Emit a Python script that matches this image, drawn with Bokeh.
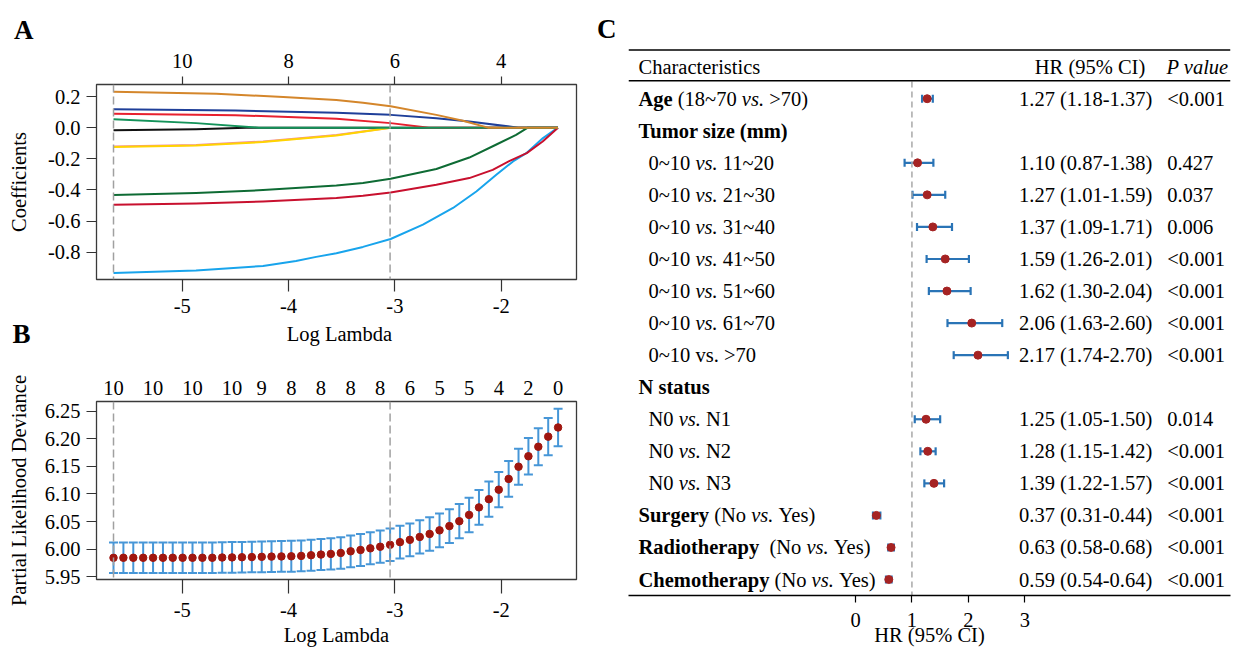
import math
from bokeh.plotting import figure
from bokeh.models import (Range1d, LinearAxis, FixedTicker, Span,
                          ColumnDataSource, Whisker, TeeHead)
from bokeh.layouts import row, column
from bokeh.embed import file_html
from bokeh.resources import INLINE
from bokeh.core.properties import value

FONT = "Liberation Serif"
FPX = 20.5
FS = "%gpx" % FPX

# ======================= DATA =======================
# ---- Panel A: LASSO coefficient paths (log lambda, coefficient)
lambda_min_log = -5.646
lambda_1se_log = -3.045
x_ticks = [-5, -4, -3, -2]
a_top_labels = ["10", "8", "6", "4"]
a_y_ticks = [-0.8, -0.6, -0.4, -0.2, 0.0, 0.2]

path_black_x = [-5.646, -4.87, -4.40, -1.466]
path_black_y = [-0.016, -0.010, 0.0, 0.0]
path_pink_x = [-5.646, -4.87, -4.24, -3.55, -3.04]
path_pink_y = [-0.121, -0.111, -0.089, -0.047, 0.0]
path_yellow_x = [-5.646, -4.87, -4.24, -3.55, -3.04]
path_yellow_y = [-0.125, -0.115, -0.093, -0.051, 0.0]
path_red_x = [-5.646, -4.50, -3.55, -3.04, -2.68, -1.466]
path_red_y = [0.090, 0.080, 0.057, 0.029, 0.0, 0.0]
path_blue_x = [-5.646, -4.50, -3.55, -3.04, -2.61, -2.30, -1.84, -1.466]
path_blue_y = [0.118, 0.110, 0.095, 0.082, 0.061, 0.039, 0.0, 0.0]
path_lightblue_x = [-5.646, -4.87, -4.24, -3.93, -3.74, -3.55, -3.30, -3.04,
                    -2.736, -2.453, -2.234, -2.046, -1.889, -1.764, -1.607, -1.466]
path_lightblue_y = [-0.933, -0.918, -0.888, -0.856, -0.830, -0.807, -0.766, -0.715,
                    -0.623, -0.516, -0.410, -0.303, -0.217, -0.164, -0.067, 0.0]
path_darkred_x = [-5.646, -4.87, -4.24, -3.55, -3.30, -3.04, -2.61, -2.30, -2.08,
                  -1.92, -1.76, -1.61, -1.466]
path_darkred_y = [-0.495, -0.488, -0.474, -0.452, -0.437, -0.416, -0.367, -0.324,
                  -0.271, -0.213, -0.164, -0.089, 0.0]
path_darkgreen_x = [-5.646, -4.87, -4.24, -3.55, -3.30, -3.04, -2.61, -2.30, -2.05,
                    -1.86, -1.75, -1.466]
path_darkgreen_y = [-0.433, -0.420, -0.401, -0.371, -0.356, -0.328, -0.266, -0.192,
                    -0.110, -0.046, 0.0, 0.0]
path_green_x = [-5.646, -4.87, -4.28, -1.466]
path_green_y = [0.054, 0.029, 0.0, 0.0]
path_orange_x = [-5.646, -4.68, -4.05, -3.55, -3.30, -3.04, -2.61, -2.36, -2.124,
                 -1.466]
path_orange_y = [0.231, 0.217, 0.197, 0.177, 0.160, 0.138, 0.082, 0.044, 0.0, 0.0]

# ---- Panel B: cross-validation curve
cv_loglambda = [-5.646, -5.553, -5.460, -5.367, -5.274, -5.181, -5.089, -4.996,
                -4.903, -4.810, -4.717, -4.624, -4.531, -4.438, -4.345, -4.252,
                -4.160, -4.067, -3.974, -3.881, -3.788, -3.695, -3.602, -3.509,
                -3.416, -3.323, -3.231, -3.138, -3.045, -2.952, -2.859, -2.766,
                -2.673, -2.580, -2.487, -2.394, -2.302, -2.209, -2.116, -2.023,
                -1.930, -1.837, -1.744, -1.651, -1.558, -1.465]
cv_mean = [5.9845, 5.9845, 5.9845, 5.9845, 5.9845, 5.9845, 5.9845, 5.9845,
           5.9845, 5.9845, 5.9845, 5.9850, 5.9852, 5.9855, 5.9858, 5.9862,
           5.9866, 5.9869, 5.9872, 5.9879, 5.9891, 5.9903, 5.9915, 5.9932,
           5.9962, 5.9986, 6.0016, 6.0045, 6.0080, 6.0128, 6.0169, 6.0222,
           6.0276, 6.0341, 6.0418, 6.0507, 6.0621, 6.0757, 6.0905, 6.1077,
           6.1272, 6.1493, 6.1682, 6.1854, 6.2037, 6.2203]
cv_se = [0.0277, 0.0277, 0.0277, 0.0277, 0.0277, 0.0277, 0.0277, 0.0277,
         0.0277, 0.0277, 0.0277, 0.0277, 0.0277, 0.0277, 0.0277, 0.0278,
         0.0278, 0.0278, 0.0279, 0.0279, 0.0280, 0.0281, 0.0283, 0.0285,
         0.0287, 0.0289, 0.0290, 0.0292, 0.0293, 0.0295, 0.0297, 0.0300,
         0.0302, 0.0305, 0.0307, 0.0310, 0.0312, 0.0315, 0.0318, 0.0320,
         0.0323, 0.0326, 0.0330, 0.0333, 0.0336, 0.0340]
cv_nzero_idx = [0, 4, 8, 12, 15, 18, 21, 24, 27, 30, 33, 36, 39, 42, 45]
cv_nzero_labels = ["10", "10", "10", "10", "9", "8", "8", "8", "8", "6", "5",
                   "5", "4", "2", "0"]
b_y_ticks = [5.95, 6.00, 6.05, 6.10, 6.15, 6.20, 6.25]

# ---- Panel C: forest plot
c_bold = ["Age", "Tumor size (mm)", "", "", "", "", "", "", "", "N status",
          "", "", "", "Surgery", "Radiotherapy", "Chemotherapy"]
c_plain = [" (18~70 vs. >70)", "", "0~10 vs. 11~20", "0~10 vs. 21~30",
           "0~10 vs. 31~40", "0~10 vs. 41~50", "0~10 vs. 51~60",
           "0~10 vs. 61~70", "0~10 vs. >70", "", "N0 vs. N1", "N0 vs. N2",
           "N0 vs. N3", " (No vs. Yes)", "  (No vs. Yes)", " (No vs. Yes)"]
c_indent = [0, 0, 1, 1, 1, 1, 1, 1, 1, 0, 1, 1, 1, 0, 0, 0]
c_italic_vs = [True, True, True, True, True, True, True, True, False, True,
               True, True, True, True, True, True]
c_hr = [1.27, None, 1.10, 1.27, 1.37, 1.59, 1.62, 2.06, 2.17, None, 1.25,
        1.28, 1.39, 0.37, 0.63, 0.59]
c_lo = [1.18, None, 0.87, 1.01, 1.09, 1.26, 1.30, 1.63, 1.74, None, 1.05,
        1.15, 1.22, 0.31, 0.58, 0.54]
c_hi = [1.37, None, 1.38, 1.59, 1.71, 2.01, 2.04, 2.60, 2.70, None, 1.50,
        1.42, 1.57, 0.44, 0.68, 0.64]
c_p = ["<0.001", "", "0.427", "0.037", "0.006", "<0.001", "<0.001", "<0.001",
       "<0.001", "", "0.014", "<0.001", "<0.001", "<0.001", "<0.001", "<0.001"]
c_x_ticks = [0, 1, 2, 3]
ref_hr = 1

# ======================= LAYOUT HELPERS (page pixels) =======================
def lin(px, p0, p1, v0, v1):
    return v0 + (px - p0) * (v1 - v0) / (p1 - p0)

def lx(px):            # panels A/B: -5 at 181.7 px, -2 at 500.7 px
    return lin(px, 181.7, 500.7, -5.0, -2.0)

def ay(py):
    return lin(py, 96.0, 251.7, 0.2, -0.8)

def by(py):
    return lin(py, 410.7, 579.3, 6.25, 5.95)

def cx(px):
    return lin(px, 855.0, 1024.3, 0.0, 3.0)

def cy(py):
    return lin(py, 98.3, 580.0, 0.0, -15.0)


def style_axis(ax, tick_out, standoff):
    ax.axis_line_color = None
    ax.major_tick_out = tick_out
    ax.major_tick_in = 0
    ax.major_tick_line_color = "#333333"
    ax.major_tick_line_width = 1.2
    ax.minor_tick_line_color = None
    ax.major_label_text_font = FONT
    ax.major_label_text_font_size = FS
    ax.major_label_text_color = "black"
    ax.major_label_standoff = standoff
    ax.axis_label_text_font = FONT
    ax.axis_label_text_font_size = FS
    ax.axis_label_text_font_style = "normal"
    ax.axis_label_text_color = "black"


def make_panel(height, top, bottom, y0, y1):
    p = figure(width=590, height=height, title=None,
               x_range=Range1d(lx(96), lx(576)), y_range=Range1d(y0, y1),
               output_backend="svg", toolbar_location=None,
               min_border_left=96, min_border_right=14,
               min_border_top=top, min_border_bottom=bottom)
    p.xgrid.visible = False
    p.ygrid.visible = False
    p.outline_line_color = "#3a3a3a"
    p.outline_line_width = 1.3
    return p


def tag_strip(width, height, top, bottom, left, right, tag, standoff):
    """thin strip whose left axis title carries a bold panel tag"""
    s = figure(width=width, height=height, title=None, x_range=Range1d(0, 1),
               y_range=Range1d(0, 1), output_backend="svg",
               toolbar_location=None, x_axis_location=None,
               min_border_left=left, min_border_right=right,
               min_border_top=top, min_border_bottom=bottom)
    s.xgrid.visible = False
    s.ygrid.visible = False
    s.outline_line_color = None
    ax = s.yaxis[0]
    ax.ticker = FixedTicker(ticks=[])
    ax.axis_line_color = None
    ax.major_tick_line_color = None
    ax.minor_tick_line_color = None
    ax.axis_label = tag
    ax.axis_label_orientation = "horizontal"
    ax.axis_label_standoff = standoff
    ax.axis_label_text_font = FONT
    ax.axis_label_text_font_size = "27px"
    ax.axis_label_text_font_style = "bold"
    ax.axis_label_text_color = "black"
    return s


# ---- strip above A: "A" tag (centre at y=29)
T_H = 44
pT = tag_strip(590, T_H, 14, 0, 96, 14, "A", 63)

# ======================= PANEL A =======================
A_TOP, A_BOT = T_H, 317
pA = make_panel(A_BOT - A_TOP, 84 - A_TOP, A_BOT - 279, ay(279), ay(84))
style_axis(pA.xaxis[0], 12, 7)
pA.xaxis[0].ticker = FixedTicker(ticks=x_ticks)
pA.xaxis[0].major_label_overrides = {t: "%d" % t for t in x_ticks}
style_axis(pA.yaxis[0], 10, 6)
pA.yaxis[0].ticker = FixedTicker(ticks=a_y_ticks)
pA.yaxis[0].major_label_overrides = {t: "%.1f" % t for t in a_y_ticks}
pA.yaxis[0].axis_label = "Coefficients"
pA.yaxis[0].axis_label_standoff = 15
topA = LinearAxis(ticker=FixedTicker(ticks=x_ticks),
                  major_label_overrides={t: l for t, l in zip(x_ticks, a_top_labels)})
style_axis(topA, 8, 9)
pA.add_layout(topA, "above")

for loc in (lambda_min_log, lambda_1se_log):
    pA.add_layout(Span(location=loc, dimension="height", line_color="#A0A0A0",
                       line_width=1.5, line_dash="8 4"))

paths = [
    (path_black_x, path_black_y, "#111111"),
    (path_pink_x, path_pink_y, "#F08CA0"),
    (path_yellow_x, path_yellow_y, "#FFD400"),
    (path_red_x, path_red_y, "#E8202E"),
    (path_blue_x, path_blue_y, "#1F3F99"),
    (path_lightblue_x, path_lightblue_y, "#18A4EC"),
    (path_darkred_x, path_darkred_y, "#C8102E"),
    (path_darkgreen_x, path_darkgreen_y, "#0E6B34"),
    (path_green_x, path_green_y, "#14935A"),
    (path_orange_x, path_orange_y, "#D4862B"),
]
for xs, ys, col in paths:
    pA.line(xs, ys, line_color=col, line_width=2, line_join="round")

# ---- strip between A and B: A's x-axis title and the "B" tag (centre y=333)
M_TOP, M_BOT, M_FB = A_BOT, 350, 349
pM = tag_strip(590, M_BOT - M_TOP, 0, M_BOT - M_FB, 96, 14, "B", 66)
pM.x_range = Range1d(96, 576)
pM.y_range = Range1d(M_FB, M_TOP)
pM.text(x=[339], y=[333], text=["Log Lambda"], text_font=value(FONT),
        text_font_size=value(FS), text_align="center",
        text_baseline="alphabetic", text_color="black")

# ======================= PANEL B =======================
B_TOP = M_BOT
B_H = 648 - B_TOP
pB = make_panel(B_H, 401 - B_TOP, B_TOP + B_H - 582, by(582), by(401))
style_axis(pB.xaxis[0], 14, 9)
pB.xaxis[0].ticker = FixedTicker(ticks=x_ticks)
pB.xaxis[0].major_label_overrides = {t: "%d" % t for t in x_ticks}
pB.xaxis[0].axis_label = "Log Lambda"
pB.xaxis[0].axis_label_standoff = 4
style_axis(pB.yaxis[0], 10, 6)
pB.yaxis[0].ticker = FixedTicker(ticks=b_y_ticks)
pB.yaxis[0].major_label_overrides = {t: "%.2f" % t for t in b_y_ticks}
pB.yaxis[0].axis_label = "Partial Likelihood Deviance"
pB.yaxis[0].axis_label_standoff = 12
top_ticks = [cv_loglambda[i] for i in cv_nzero_idx]
topB = LinearAxis(ticker=FixedTicker(ticks=top_ticks),
                  major_label_overrides={t: l for t, l in zip(top_ticks, cv_nzero_labels)})
style_axis(topB, 0, 7)
topB.major_tick_line_color = None
pB.add_layout(topB, "above")

for loc in (lambda_min_log, lambda_1se_log):
    pB.add_layout(Span(location=loc, dimension="height", line_color="#A0A0A0",
                       line_width=1.5, line_dash="8 4"))

cv_src = ColumnDataSource(dict(
    x=cv_loglambda, y=cv_mean,
    lo=[m - s for m, s in zip(cv_mean, cv_se)],
    hi=[m + s for m, s in zip(cv_mean, cv_se)]))
ebar = "#4696D7"
pB.add_layout(Whisker(base="x", lower="lo", upper="hi", dimension="height",
                      source=cv_src, line_color=ebar, line_width=2,
                      upper_head=TeeHead(size=9, line_color=ebar, line_width=2),
                      lower_head=TeeHead(size=9, line_color=ebar, line_width=2)))
pB.scatter("x", "y", source=cv_src, size=7.5, fill_color="#A0160F",
           line_color="#A0160F")

# ======================= PANEL C =======================
C_LEFT, C_W = 590, 647
CT_H = 46
pCT = tag_strip(C_W, CT_H, 13, 3, 628 - C_LEFT, C_LEFT + C_W - 1230, "C", 12)

pC = figure(width=C_W, height=648 - CT_H, title=None,
            x_range=Range1d(cx(628), cx(1230)), y_range=Range1d(cy(596), cy(CT_H)),
            output_backend="svg", toolbar_location=None, y_axis_location=None,
            min_border_left=628 - C_LEFT, min_border_right=C_LEFT + C_W - 1230,
            min_border_top=0, min_border_bottom=648 - 596)
pC.xgrid.visible = False
pC.ygrid.visible = False
pC.outline_line_color = None
axC = pC.xaxis[0]
style_axis(axC, 7, 10)
axC.axis_line_color = "black"
axC.axis_line_width = 1.3
axC.major_tick_line_color = "black"
axC.ticker = FixedTicker(ticks=c_x_ticks)
axC.axis_label = "HR (95% CI)"
axC.axis_label_standoff = -6

# rules
pC.add_layout(Span(location=cy(49.5), dimension="width", line_color="black",
                   line_width=1.3))
pC.add_layout(Span(location=cy(80.3), dimension="width", line_color="black",
                   line_width=1.3))

# reference line HR = 1
pC.line([ref_hr, ref_hr], [cy(81), cy(596)], line_color="#A8A8A8",
        line_width=1.5, line_dash="6 4")

# text metrics (Times-compatible, per 1000 em)
REG = {' ': 250, '(': 333, ')': 333, '~': 541, '.': 250, '>': 564, '<': 564,
       '-': 333, '%': 833, 'N': 722, 'Y': 722, 'H': 722, 'R': 667, 'C': 667,
       'I': 333, 'P': 556, 'a': 444, 'c': 444, 'e': 444, 'h': 500, 'i': 278,
       'l': 278, 'o': 500, 'r': 333, 's': 389, 't': 278, 'u': 500, 'v': 500,
       'm': 778}
ITA = {' ': 250, 'v': 444, 's': 389, '.': 250, 'P': 611, 'a': 500, 'l': 278,
       'u': 500, 'e': 444}
BLD = {' ': 250, 'A': 722, 'g': 500, 'e': 444, 'T': 667, 'u': 556, 'm': 833,
       'o': 500, 'r': 444, 's': 389, 'i': 278, 'z': 444, '(': 333, ')': 333,
       'N': 722, 't': 333, 'a': 500, 'S': 556, 'y': 500, 'R': 722, 'd': 556,
       'h': 556, 'p': 556, 'C': 722, 'c': 444}
METRIC = {"normal": REG, "italic": ITA, "bold": BLD}


def width_px(s, style):
    m = METRIC[style]
    return sum(m.get(ch, 500) for ch in s) / 1000.0 * FPX


stores = {k: dict(x=[], y=[], text=[]) for k in ("normal", "italic", "bold")}


def put(s, style, x_px, yv):
    lead = len(s) - len(s.lstrip(" "))
    core = s.strip(" ")
    if core:
        stores[style]["x"].append(cx(x_px + width_px(" " * lead, style)))
        stores[style]["y"].append(yv)
        stores[style]["text"].append(core)
    return x_px + width_px(s, style)


# header
put("Characteristics", "normal", 638, 1)
put("HR (95% CI)", "normal", 1034.3, 1)
put("P value", "italic", 1166, 1)

for i in range(len(c_bold)):
    yv = -i
    x = 648.0 if c_indent[i] else 638.0
    if c_bold[i]:
        x = put(c_bold[i], "bold", x, yv)
    txt = c_plain[i]
    if txt:
        if c_italic_vs[i] and "vs." in txt:
            a, b = txt.split("vs.", 1)
            x = put(a, "normal", x, yv)
            x = put("vs.", "italic", x, yv)
            x = put(b, "normal", x, yv)
        else:
            x = put(txt, "normal", x, yv)
    if c_hr[i] is not None:
        put("%.2f (%.2f-%.2f)" % (c_hr[i], c_lo[i], c_hi[i]), "normal", 1018.5, yv)
    if c_p[i]:
        put(c_p[i], "normal", 1166.7, yv)

for style, d in stores.items():
    pC.text(x="x", y="y", text="text", source=ColumnDataSource(d),
            text_font=value(FONT), text_font_size=value(FS),
            text_font_style=value(style), text_color="black",
            text_align="left", text_baseline="middle")

idx = [i for i in range(len(c_hr)) if c_hr[i] is not None]
f_src = ColumnDataSource(dict(y=[-i for i in idx], hr=[c_hr[i] for i in idx],
                              lo=[c_lo[i] for i in idx], hi=[c_hi[i] for i in idx]))
wcol = "#2A74B6"
pC.add_layout(Whisker(base="y", lower="lo", upper="hi", dimension="width",
                      source=f_src, line_color=wcol, line_width=2.2,
                      upper_head=TeeHead(size=8, line_color=wcol, line_width=2.2),
                      lower_head=TeeHead(size=8, line_color=wcol, line_width=2.2)))
pC.scatter("hr", "y", source=f_src, size=8, fill_color="#A52323",
           line_color="#A52323")

layout = row(column(pT, pA, pM, pB), column(pCT, pC))
open("out.html", "w").write(file_html(layout, INLINE))
